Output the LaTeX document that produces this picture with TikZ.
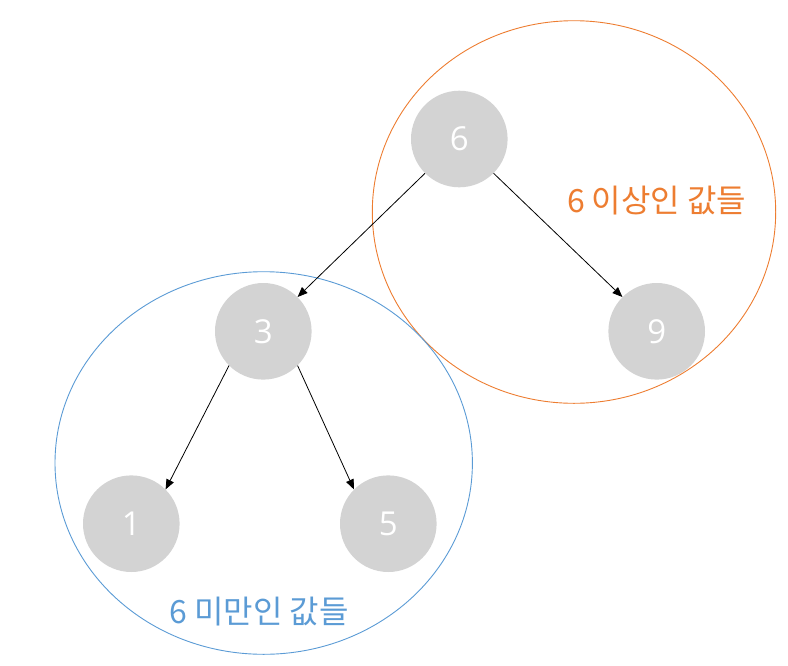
\documentclass[tikz,border=0pt]{standalone}
\usepackage{fontspec}
\usetikzlibrary{arrows.meta,shapes.geometric}
\newfontfamily\krfont{Noto Sans CJK KR}
\newfontfamily\numfont{Open Sans}
\definecolor{nodegray}{HTML}{D3D3D3}
\definecolor{orangeline}{HTML}{ED7D31}
\definecolor{blueline}{HTML}{5B9BD5}
\begin{document}
\begin{tikzpicture}[x=1pt,y=-1pt,
  treenode/.style={circle, fill=nodegray, minimum size=96.6pt, inner sep=0pt, text=white, font=\numfont\fontsize{33}{33}\selectfont},
  treeedge/.style={draw=black, line width=0.8pt, -{Triangle[length=10pt,width=8pt]}},
  groupring/.style={ellipse, draw, line width=0.9pt, inner sep=0pt},
  grouplabel/.style={font=\krfont\fontsize{32}{32}\selectfont, inner sep=0pt}]
\useasboundingbox (0,0) rectangle (788,665);
\node[treenode] (n6) at (459.3,139) {6};
\node[treenode] (n3) at (263.3,331.3) {3};
\node[treenode] (n9) at (656.7,331.3) {9};
\node[treenode] (n1) at (131.3,523.7) {1};
\node[treenode] (n5) at (388.3,523.7) {5};
\node[groupring, draw=orangeline, minimum width=403.4pt, minimum height=382.6pt] (ge) at (574,212) {};
\node[groupring, draw=blueline, minimum width=417.4pt, minimum height=382.6pt] (gl) at (263.7,463) {};
\node[grouplabel, text=orangeline] (lge) at (656.7,201) {6 이상인 값들};
\node[grouplabel, text=blueline] (lgl) at (259.2,612) {6 미만인 값들};
\draw[treeedge] (n6.south west) -- (n3.north east);
\draw[treeedge] (n6.south east) -- (n9.north west);
\draw[treeedge] (n3.south west) -- (n1.north east);
\draw[treeedge] (n3.south east) -- (n5.north west);
\end{tikzpicture}
\end{document}
